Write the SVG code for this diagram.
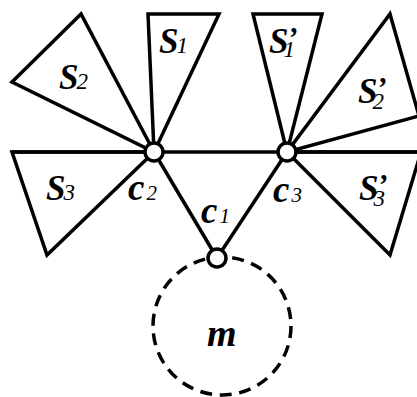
<svg xmlns="http://www.w3.org/2000/svg" width="417" height="397" viewBox="0 0 417 397">
<style>
.tri{fill:none;stroke:#000;stroke-width:3.5;stroke-linejoin:miter}
.edge{stroke:#000;stroke-width:3.5;fill:none}
.node{fill:#fff;stroke:#000;stroke-width:3.5}
.dash{fill:none;stroke:#000;stroke-width:3.5;stroke-dasharray:12 7.7}
text{font-family:"Liberation Serif","Times New Roman",serif;font-style:italic;font-weight:bold;fill:#000}
.S{font-size:35px}
.c{font-size:37px}
.sub{font-size:23px;font-weight:normal}
.pr{font-size:30px;font-weight:bold}
.subc{font-size:21px;font-weight:normal}
</style>
<rect width="417" height="397" fill="#fff"/>
<g id="m">
<circle class="dash" cx="222" cy="326" r="69"/>
<text x="207" y="346" style="font-size:38px">m</text>
</g>
<g id="connectors">
<line class="edge" x1="12" y1="152" x2="421" y2="152"/>
<line class="edge" x1="154" y1="152" x2="217" y2="258"/>
<line class="edge" x1="287" y1="152" x2="217" y2="258"/>
</g>
<g id="S1">
<polygon class="tri" points="148,14 219,14 154,152"/>
<text class="S" x="159" y="53">S<tspan class="sub" dx="-2">1</tspan></text>
</g>
<g id="S2">
<polygon class="tri" points="81,14 12,82 154,152"/>
<text class="S" x="59" y="89">S<tspan class="sub" dx="-2">2</tspan></text>
</g>
<g id="S3">
<polygon class="tri" points="12,152 154,152 47,255"/>
<text class="S" x="46" y="200">S<tspan class="sub" dx="-2">3</tspan></text>
</g>
<g id="S1p">
<polygon class="tri" points="253,14 322,14 287,152"/>
<text class="S" x="269" y="53">S<tspan class="pr" dx="-1" dy="-6">’</tspan><tspan class="sub" dx="-14" dy="10">1</tspan></text>
</g>
<g id="S2p">
<polygon class="tri" points="390,14 419,116 287,152"/>
<text class="S" x="358" y="103">S<tspan class="pr" dx="-1" dy="-6">’</tspan><tspan class="sub" dx="-14" dy="12">2</tspan></text>
</g>
<g id="S3p">
<polygon class="tri" points="287,152 421,152 390,255"/>
<text class="S" x="359" y="200">S<tspan class="pr" dx="-1" dy="-6">’</tspan><tspan class="sub" dx="-14" dy="12">3</tspan></text>
</g>
<g id="c2">
<circle class="node" cx="154" cy="152" r="9"/>
<text class="c" x="128" y="200">c<tspan class="subc" dx="2">2</tspan></text>
</g>
<g id="c3">
<circle class="node" cx="287" cy="152" r="9"/>
<text class="c" x="273" y="202">c<tspan class="subc" dx="2">3</tspan></text>
</g>
<g id="c1">
<circle class="node" cx="217" cy="258" r="9"/>
<text class="c" x="201" y="223">c<tspan class="subc" dx="2">1</tspan></text>
</g>
</svg>
